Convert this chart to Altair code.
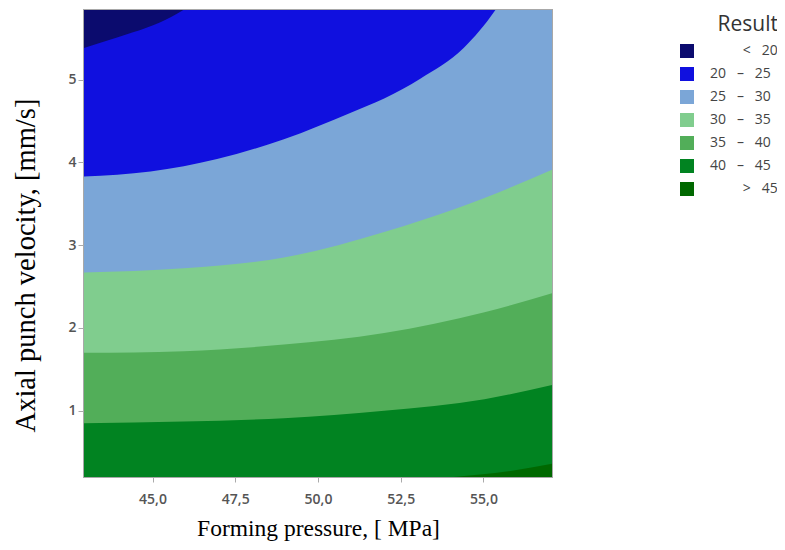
import altair as alt
import pandas as pd

# ---- axes ----
X_MIN, X_MAX = 42.93, 57.07
Y_MIN, Y_MAX = 0.2, 5.84
x_ticks = [45.0, 47.5, 50.0, 52.5, 55.0]
y_ticks = [1, 2, 3, 4, 5]

# ---- legend classes ----
NB = "\u00a0"
ZW = "\u200b"  # keeps the leading spaces from being trimmed
band_labels = [
    ZW + NB * 9 + "<" + NB * 3 + "20",
    "20" + NB * 3 + "\u2013" + NB * 3 + "25",
    "25" + NB * 3 + "\u2013" + NB * 3 + "30",
    "30" + NB * 3 + "\u2013" + NB * 3 + "35",
    "35" + NB * 3 + "\u2013" + NB * 3 + "40",
    "40" + NB * 3 + "\u2013" + NB * 3 + "45",
    ZW + NB * 9 + ">" + NB * 3 + "45",
]
band_colors = ["#0b0b6e", "#1010df", "#7ba6d7", "#80cd8e", "#52ae59", "#018321", "#006800"]

# ---- upper boundary of each class region (read from the contour plot;
#      points above the frame continue the curve and are clipped) ----
b0_x = [42.93, 57.07]
b0_y = [5.84, 5.84]
b1_x = [42.93, 43.40, 44.41, 45.22, 45.93, 46.60, 57.07]
b1_y = [5.38, 5.44, 5.57, 5.69, 5.84, 6.05, 8.00]
b2_x = [42.93, 44.94, 46.95, 48.97, 50.99, 52.00, 53.09, 54.40, 55.36, 56.00, 57.07]
b2_y = [3.83, 3.89, 4.04, 4.28, 4.60, 4.77, 5.01, 5.38, 5.84, 6.25, 7.10]
b3_x = [42.93, 45.95, 48.97, 52.00, 53.20, 55.03, 57.07]
b3_y = [2.67, 2.72, 2.85, 3.16, 3.31, 3.57, 3.91]
b4_x = [42.93, 45.95, 48.97, 52.00, 55.03, 57.07]
b4_y = [1.70, 1.72, 1.80, 1.94, 2.19, 2.42]
b5_x = [42.93, 45.95, 48.97, 52.00, 55.03, 57.07]
b5_y = [0.85, 0.87, 0.91, 1.00, 1.14, 1.31]
b6_x = [54.10, 54.90, 55.91, 57.07]
b6_y = [0.20, 0.23, 0.28, 0.36]

boundaries = [(b0_x, b0_y), (b1_x, b1_y), (b2_x, b2_y), (b3_x, b3_y),
              (b4_x, b4_y), (b5_x, b5_y), (b6_x, b6_y)]

color_enc = alt.Color(
    "band:N",
    scale=alt.Scale(domain=band_labels, range=band_colors),
    legend=alt.Legend(
        title="Result", orient="none", legendX=596, legendY=4,
        symbolType="square", symbolSize=196, symbolStrokeWidth=0, symbolOpacity=1,
        titleFont="Open Sans", titleFontSize=21, titleFontWeight="normal", titleColor="#333333",
        titleAnchor="end", titlePadding=9,
        labelFont="Open Sans", labelFontSize=14, labelColor="#444444", labelOffset=16,
        rowPadding=9, padding=0, labelLimit=200,
    ),
)

x_enc = alt.X(
    "x:Q",
    scale=alt.Scale(domain=[X_MIN, X_MAX], nice=False, zero=False),
    axis=alt.Axis(
        values=x_ticks, format=".1f", labelExpr="replace(datum.label, '.', ',')",
        title="Forming pressure, [ MPa]", titleFont="Liberation Serif", titleFontSize=23.5,
        titleFontWeight="normal", titleColor="black", titleY=58, titleBaseline="alphabetic",
        labelFont="Open Sans", labelFontSize=14, labelFontWeight=600, labelColor="#555555",
        labelPadding=10, tickSize=5, tickColor="#aaaaaa", domain=False, grid=False,
    ),
)
y_enc = alt.Y(
    "y:Q",
    scale=alt.Scale(domain=[Y_MIN, Y_MAX], nice=False, zero=False),
    axis=alt.Axis(
        values=y_ticks, format="d",
        title="Axial punch velocity, [mm/s]", titleFont="Liberation Serif", titleFontSize=28.5,
        titleFontWeight="normal", titleColor="black", titleAngle=270,
        titleX=-59, titleY=255, titleAlign="center", titleBaseline="middle",
        labelFont="Open Sans", labelFontSize=14, labelFontWeight=600, labelColor="#555555",
        labelPadding=2, tickSize=6, tickColor="#aaaaaa", domain=False, grid=False,
    ),
)

layers = []
for label, (bx, by) in zip(band_labels, boundaries):
    df = pd.DataFrame({"x": bx, "y": by, "base": [Y_MIN] * len(bx), "band": [label] * len(bx)})
    layers.append(
        alt.Chart(df).mark_area(interpolate="monotone", clip=True, opacity=1).encode(
            x=x_enc, y=y_enc, y2="base:Q", color=color_enc
        )
    )

chart = (
    alt.layer(*layers)
    .properties(
        width=468, height=467,
        padding={"left": 76, "top": 2, "right": 225, "bottom": 65},
        autosize=alt.AutoSizeParams(type="none"),
    )
    .configure_view(stroke="#a8a8a8", strokeWidth=2)
)

chart.save("out.html", embed_options={"renderer": "svg", "actions": False})
